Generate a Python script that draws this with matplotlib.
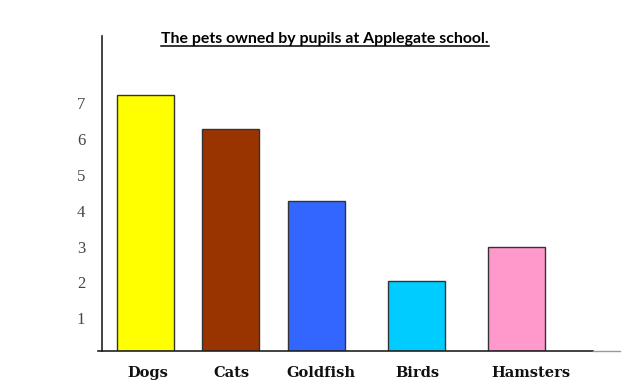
import matplotlib
matplotlib.use('Agg')
import matplotlib.pyplot as plt
import matplotlib.transforms as mtransforms
import numpy as np

# data
pets = ['Dogs', 'Cats', 'Goldfish', 'Birds', 'Hamsters']
counts = [7.15, 6.2, 4.2, 1.95, 2.9]
colours = ['#FFFF00', '#993300', '#3366FF', '#00CCFF', '#FF99CC']
y_ticks = [1, 2, 3, 4, 5, 6, 7]

# layout (bar centres and label centres are not evenly spaced in the original)
bar_pos = [0, 0.988, 1.988, 3.151, 4.314]
label_pos = [0.03, 0.994, 2.04, 3.157, 4.48]

W, H = 632, 392
fig = plt.figure(figsize=(W / 100, H / 100), dpi=100)
ax = fig.add_axes([102 / W, (H - 351) / H, (593 - 102) / W, (351 - 36) / H])

ax.bar(bar_pos, counts, width=0.663, color=colours, edgecolor='#333333', linewidth=1.0)

ax.set_xlim(-0.506, 5.203)
ax.set_ylim(0, (351 - 36) / 35.83)

ax.spines['top'].set_visible(False)
ax.spines['right'].set_visible(False)
ax.spines['left'].set_color('#222222')
ax.spines['bottom'].set_color('#222222')
ax.spines['left'].set_linewidth(1.2)
ax.spines['bottom'].set_linewidth(1.2)

ax.set_yticks(y_ticks)
ax.set_yticklabels([str(t) for t in y_ticks], family='Liberation Serif', fontsize=12, color='#444444')
ax.tick_params(axis='y', length=0, pad=12)
# labels sit a few pixels lower than their value in the original
off = mtransforms.ScaledTranslation(0, -3 / 100, fig.dpi_scale_trans)
for lab in ax.get_yticklabels():
    lab.set_transform(lab.get_transform() + off)

ax.set_xticks(label_pos)
ax.set_xticklabels(pets, family='DejaVu Serif', fontsize=10.5, fontweight='bold', color='#111111')
ax.tick_params(axis='x', length=0, pad=11)

# bottom line pokes out left of the y axis, plus a faint tail on the right
fig.add_artist(plt.Line2D([98 / W, 102 / W], [(H - 351) / H] * 2, color='#222222', lw=1.2))
fig.add_artist(plt.Line2D([593 / W, 620 / W], [(H - 351) / H] * 2, color='#999999', lw=1.0))

# underlined title
title = fig.text(325 / W, (H - 43) / H, 'The pets owned by pupils at Applegate school.',
                 ha='center', va='baseline', family='Lato', fontweight='bold', fontsize=11.4)
fig.canvas.draw()
bb = title.get_window_extent()
fig.add_artist(plt.Line2D([bb.x0 / W, bb.x1 / W], [(H - 45.5) / H] * 2, color='black', lw=1.1))

fig.savefig('out.png', dpi=100)
